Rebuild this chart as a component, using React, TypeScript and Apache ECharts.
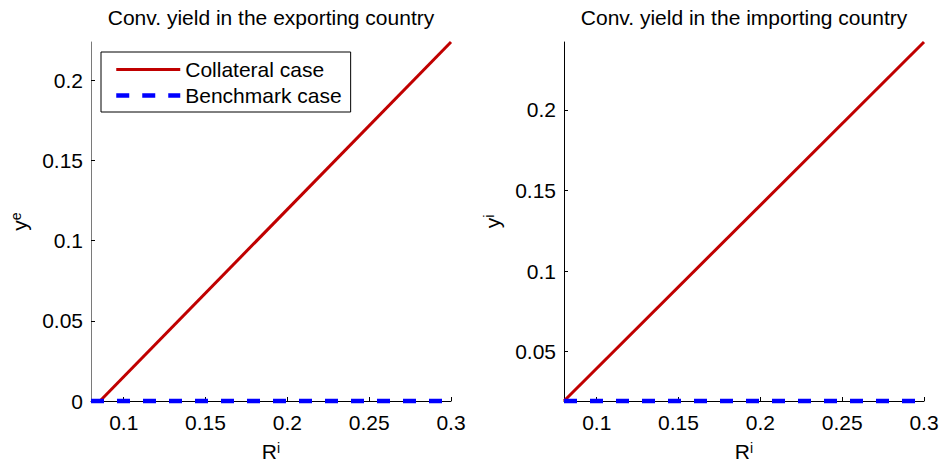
import React, { useEffect, useRef } from "react";
import * as echarts from "echarts";

// Interest rate range on the horizontal axis
const rRange = [0.08, 0.3];

// Exporting country: convenience yield y^e
const exportCollateralR = [0.0855, 0.3];
const exportCollateralY = [0, 0.2237];
const exportBenchmarkR = [0.08, 0.3];
const exportBenchmarkY = [0, 0];
const exportYRange = [0, 0.2237];

// Importing country: convenience yield y^i
const importCollateralR = [0.08, 0.3];
const importCollateralY = [0.0194, 0.2422];
const importBenchmarkR = [0.08, 0.3];
const importBenchmarkY = [0.0194, 0.0194];
const importYRange = [0.0194, 0.2422];

const seriesNames = ["Collateral case", "Benchmark case"];
const titles = [
  "Conv. yield in the exporting country",
  "Conv. yield in the importing country",
];

const FONT = "'Liberation Sans', Arial, Helvetica, sans-serif";
const FS = 21;
const RED = "#c00000";
const BLUE = "#0000ff";
const SOLID_W = 3;
const DASH_W = 4.5;
const DASH: number[] = [13, 13];

const pairs = (xs: number[], ys: number[]) => xs.map((x, i) => [x, ys[i]]);
const fmt = (v: number) => String(+v.toFixed(4));

const supRich = {
  b: { fontSize: FS, fontFamily: FONT, color: "#000", lineHeight: 20 },
  s: {
    fontSize: 14,
    fontFamily: FONT,
    color: "#000",
    verticalAlign: "top" as const,
    lineHeight: 20,
  },
};

function xAxisFor(gridIndex: number) {
  return {
    type: "value",
    gridIndex,
    min: rRange[0],
    max: rRange[1],
    name: "{b|R}{s|i}",
    nameLocation: "middle",
    nameGap: 40,
    nameTextStyle: { rich: supRich },
    axisLine: { show: true, onZero: false, lineStyle: { color: "#000", width: 1 } },
    axisTick: { show: true, inside: true, length: 4, lineStyle: { color: "#000" } },
    axisLabel: {
      showMinLabel: false,
      showMaxLabel: true,
      margin: 11,
      fontSize: FS,
      fontFamily: FONT,
      color: "#000",
      formatter: fmt,
    },
    splitLine: { show: false },
  };
}

function yAxisFor(gridIndex: number, range: number[], sup: string, lineColor: string) {
  return {
    type: "value",
    gridIndex,
    min: range[0],
    max: range[1],
    name: `{b|y}{s|${sup}}`,
    nameLocation: "middle",
    nameGap: 62,
    nameTextStyle: { rich: supRich },
    axisLine: { show: true, onZero: false, lineStyle: { color: lineColor, width: 1 } },
    axisTick: { show: true, inside: true, length: 4, lineStyle: { color: "#000" } },
    axisLabel: {
      showMinLabel: gridIndex === 0,
      showMaxLabel: false,
      margin: 8,
      fontSize: FS,
      fontFamily: FONT,
      color: "#000",
      formatter: fmt,
    },
    splitLine: { show: false },
  };
}

function lineSeries(name: string, idx: number, data: number[][], color: string, dashed: boolean) {
  return {
    name,
    type: "line",
    xAxisIndex: idx,
    yAxisIndex: idx,
    data,
    symbol: "none",
    clip: false,
    lineStyle: dashed
      ? { color, width: DASH_W, type: DASH }
      : { color, width: SOLID_W, type: "solid" },
    itemStyle: { color },
  };
}

export default function App() {
  const ref = useRef<HTMLDivElement>(null);

  useEffect(() => {
    if (!ref.current) return;
    const chart = echarts.init(ref.current, undefined, { renderer: "svg" });
    chart.setOption({
      animation: false,
      backgroundColor: "#fff",
      textStyle: { fontFamily: FONT },
      grid: [
        { left: 91, top: 42, width: 360, height: 359, outerBoundsMode: "none", containLabel: false },
        { left: 564, top: 42, width: 360, height: 359, outerBoundsMode: "none", containLabel: false },
      ],
      xAxis: [xAxisFor(0), xAxisFor(1)],
      yAxis: [
        yAxisFor(0, exportYRange, "e", "#7a7a7a"),
        yAxisFor(1, importYRange, "i", "#000"),
      ],
      legend: {
        left: 101,
        top: 52,
        orient: "vertical",
        data: [
          { name: seriesNames[0], lineStyle: { width: SOLID_W, color: RED, type: "solid" } },
          { name: seriesNames[1], lineStyle: { width: DASH_W, color: BLUE, type: DASH } },
        ],
        itemWidth: 64,
        itemHeight: 14,
        itemGap: 5,
        padding: [7, 9, 6, 13],
        borderColor: "#000",
        borderWidth: 1,
        borderRadius: 0,
        backgroundColor: "#fff",
        itemStyle: { opacity: 0 },
        textStyle: { fontSize: FS, fontFamily: FONT, color: "#000", lineHeight: 21 },
      },
      graphic: titles.map((t, i) => ({
        type: "text",
        x: i === 0 ? 271 : 744,
        y: 7,
        style: {
          text: t,
          textAlign: "center",
          fill: "#000",
          fontSize: FS,
          fontFamily: FONT,
        },
      })),
      series: [
        lineSeries(seriesNames[0], 0, pairs(exportCollateralR, exportCollateralY), RED, false),
        lineSeries(seriesNames[1], 0, pairs(exportBenchmarkR, exportBenchmarkY), BLUE, true),
        lineSeries(seriesNames[0], 1, pairs(importCollateralR, importCollateralY), RED, false),
        lineSeries(seriesNames[1], 1, pairs(importBenchmarkR, importBenchmarkY), BLUE, true),
      ],
    });
    return () => chart.dispose();
  }, []);

  return (
    <div
      ref={ref}
      style={{ position: "fixed", left: 0, top: 0, width: 941, height: 464 }}
    />
  );
}
